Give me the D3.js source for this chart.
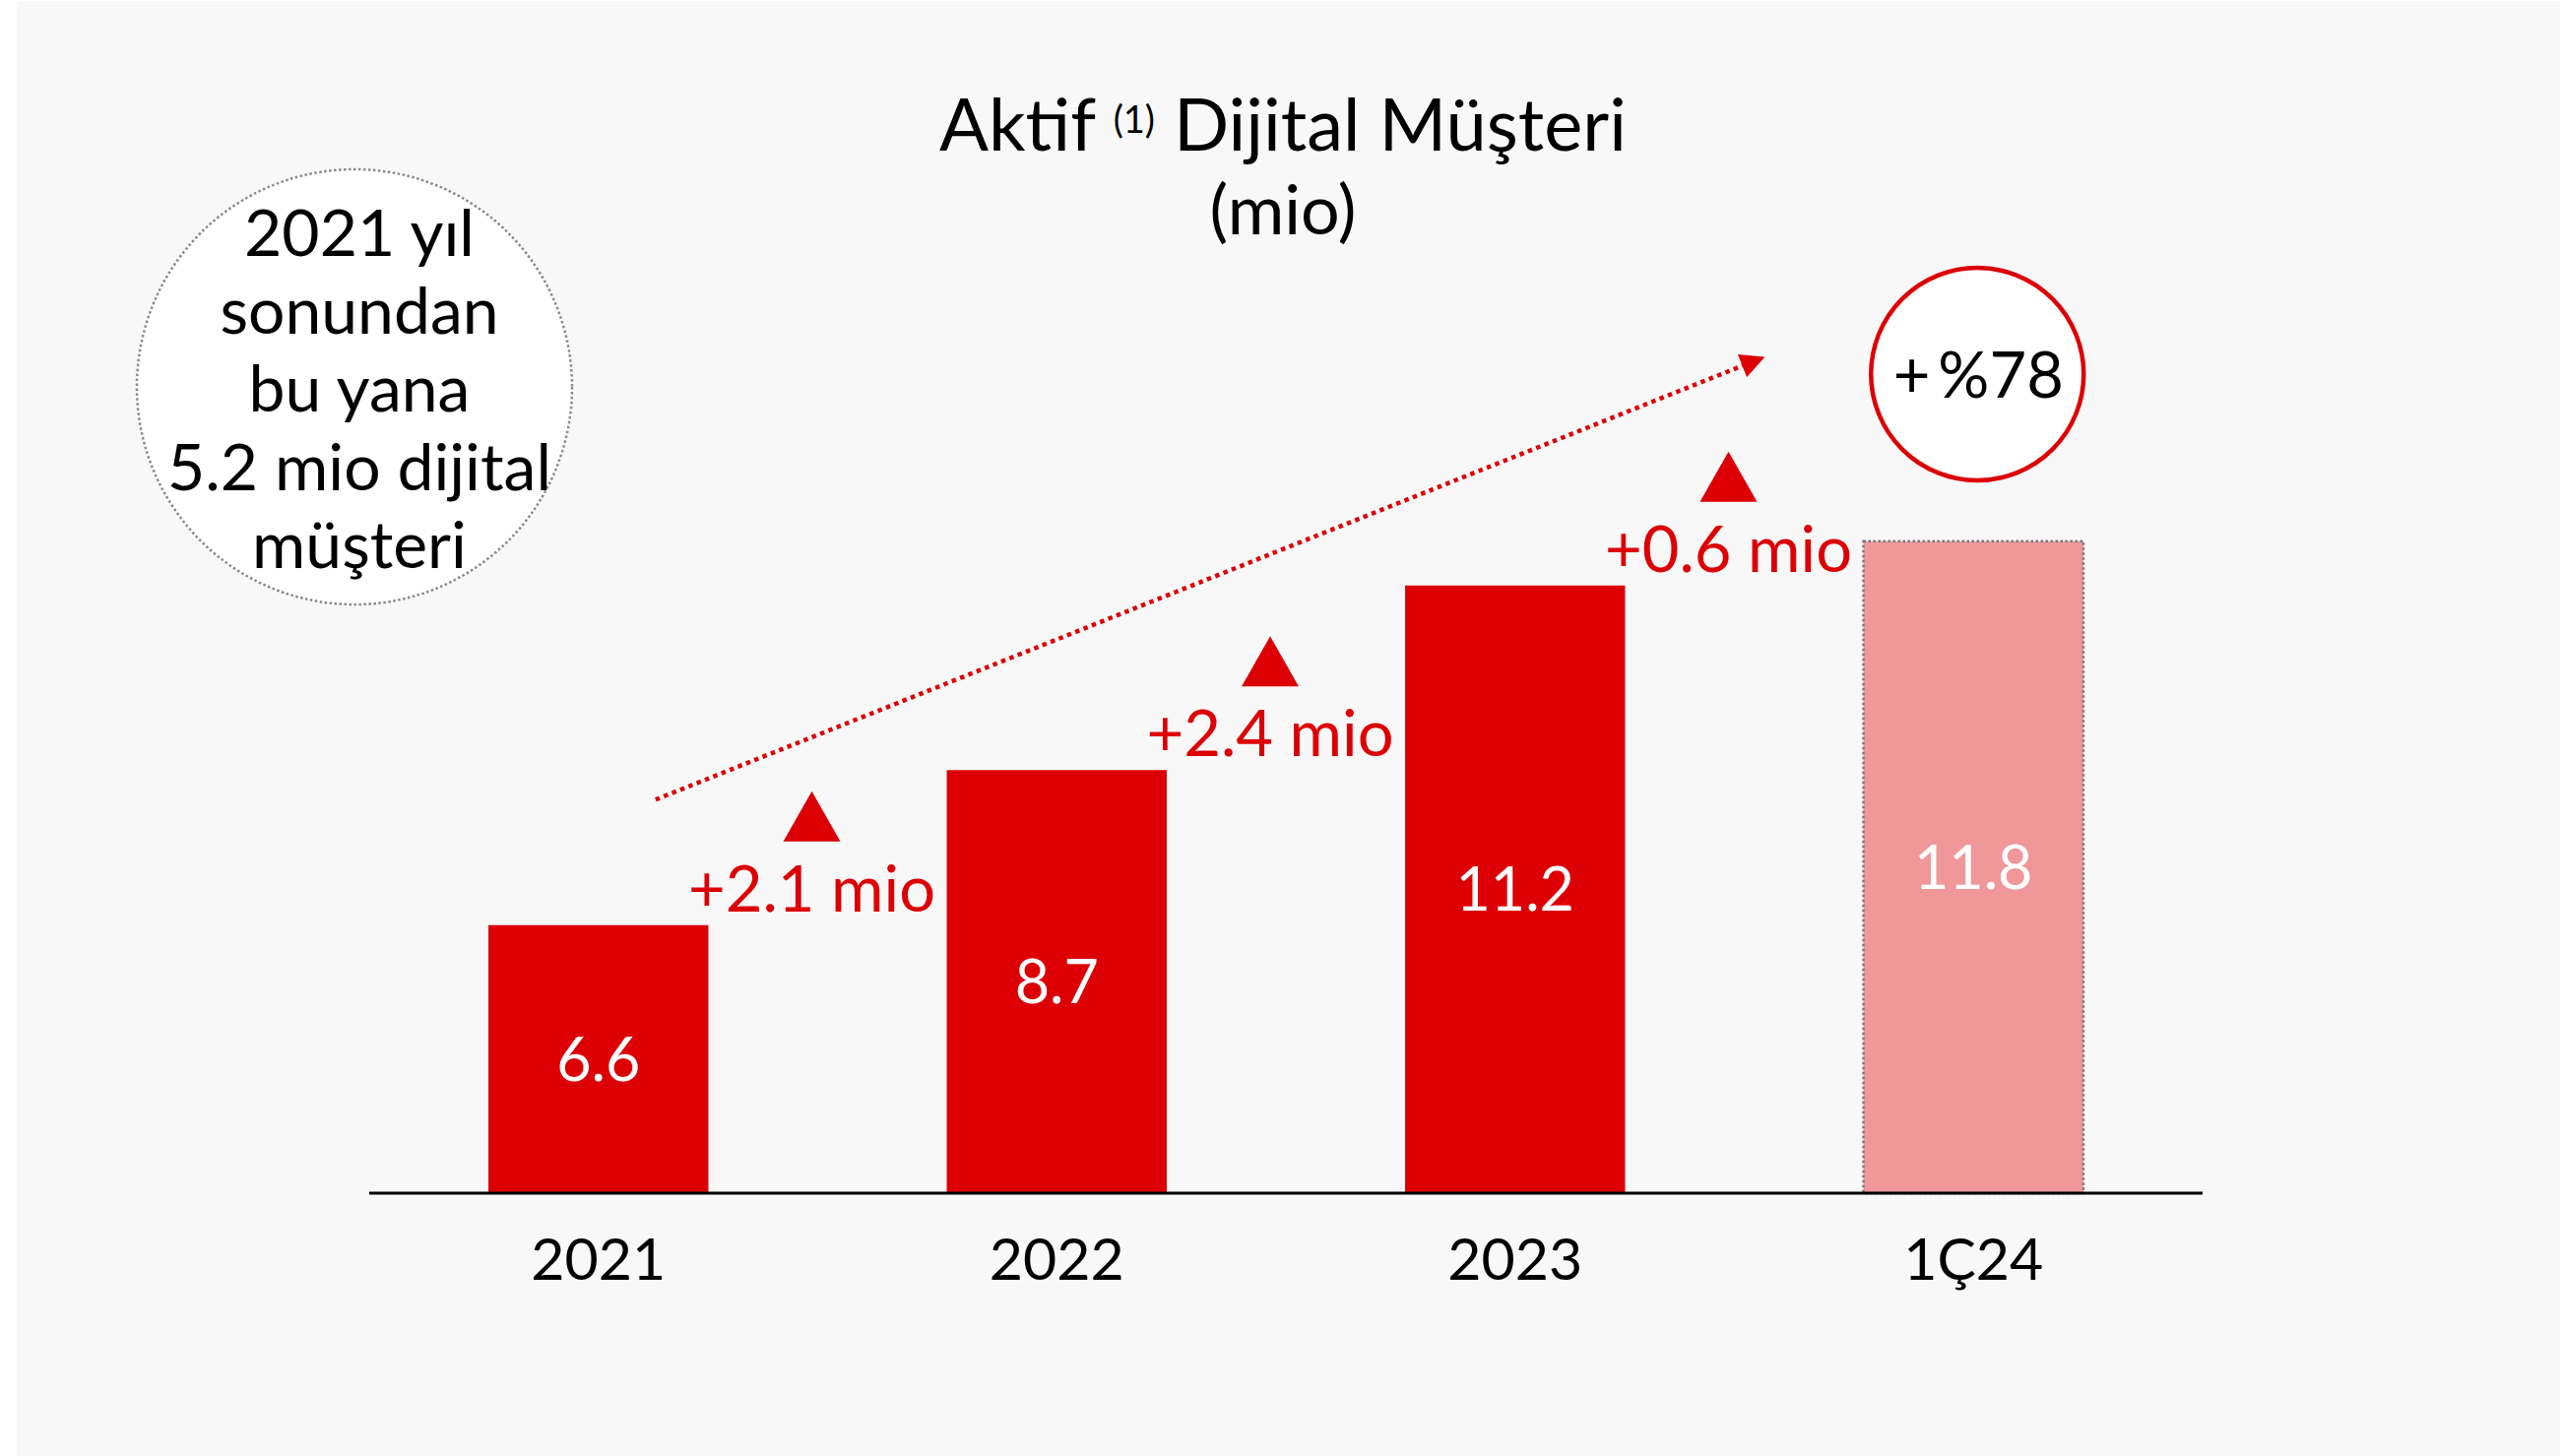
<!DOCTYPE html>
<html>
<head>
<meta charset="utf-8">
<script src="https://cdn.jsdelivr.net/npm/d3@7"></script>
<style>
  html, body { margin: 0; padding: 0; background: #ffffff; }
  svg { display: block; }
  text { font-family: Lato, "Noto Sans", sans-serif; }
</style>
</head>
<body>
<svg id="chart" width="2600" height="1479"></svg>
<script>
// ---- data ----
const categories = ["2021", "2022", "2023", "1Ç24"];
const values = [6.6, 8.7, 11.2, 11.8];
const valueLabels = ["6.6", "8.7", "11.2", "11.8"];
const deltaLabels = ["+2.1 mio", "+2.4 mio", "+0.6 mio"];
const titleMain = ["Aktif", "(1)", "Dijital Müşteri"];
const subtitle = "(mio)";
const noteLines = ["2021 yıl", "sonundan", "bu yana", "5.2 mio dijital", "müşteri"];
const growthLabel = "+%78";

// ---- styles ----
const RED = "#dc0005";
const PINK = "#f0979a";
const BG = "#f8f8f8";

const svg = d3.select("#chart");
svg.append("rect").attr("x", 17).attr("y", 1).attr("width", 2583).attr("height", 1478).attr("fill", BG);

const x = d3.scaleBand().domain(categories).range([375, 2237]).paddingInner(0.52).paddingOuter(0.26).align(0.5);
const y = d3.scaleLinear().domain([2.97, 11.8]).range([1212, 549.75]);
const bw = x.bandwidth();

// title
const title = svg.append("text").attr("x", 1303).attr("y", 153).attr("text-anchor", "middle")
  .attr("font-size", 74).attr("fill", "#000");
title.append("tspan").text(titleMain[0] + " ");
title.append("tspan").attr("font-size", 38).attr("dy", -18).text(titleMain[1]);
title.append("tspan").attr("dy", 18).text(" " + titleMain[2]);
svg.append("text").attr("x", 1303).attr("y", 238).attr("text-anchor", "middle")
  .attr("font-size", 70).attr("fill", "#000").text(subtitle);

// note circle
svg.append("circle").attr("cx", 360).attr("cy", 393).attr("r", 221)
  .attr("fill", "#ffffff").attr("stroke", "#8a8a8a").attr("stroke-width", 2.5).attr("stroke-dasharray", "2.5 2.5");
svg.append("g").selectAll("text").data(noteLines).join("text")
  .attr("x", 365).attr("y", (d, i) => 260 + i * 79.2)
  .attr("text-anchor", "middle").attr("font-size", 66).attr("fill", "#000").text(d => d);

// bars
svg.append("g").selectAll("rect").data(values).join("rect")
  .attr("x", (d, i) => x(categories[i]))
  .attr("y", d => y(d))
  .attr("width", bw)
  .attr("height", d => y.range()[0] - y(d))
  .attr("fill", (d, i) => i === values.length - 1 ? PINK : RED)
  .attr("stroke", (d, i) => i === values.length - 1 ? "#7a7a7a" : "none")
  .attr("stroke-width", 2.5)
  .attr("stroke-dasharray", "2.5 2.5");

// baseline (axis)
const axis = d3.axisBottom(x).tickSize(0).tickPadding(0);
const gAxis = svg.append("g").attr("transform", `translate(0,${y.range()[0]})`).call(axis);
gAxis.select(".domain").attr("stroke", "#000").attr("stroke-width", 3).attr("d", `M375,0H2237`);
gAxis.selectAll(".tick text").attr("font-size", 59).attr("fill", "#000")
  .attr("font-family", "Lato, 'Noto Sans', sans-serif").attr("dy", null).attr("y", 88);

// value labels
svg.append("g").selectAll("text").data(values).join("text")
  .attr("x", (d, i) => x(categories[i]) + bw / 2)
  .attr("y", d => (y(d) + y.range()[0]) / 2 + 22)
  .attr("text-anchor", "middle").attr("font-size", 61).attr("fill", "#fff")
  .text((d, i) => valueLabels[i]);

// delta labels + triangles between bars
const deltaG = svg.append("g").selectAll("g").data(deltaLabels).join("g")
  .attr("transform", (d, i) => {
    const cx = (x(categories[i]) + x(categories[i + 1])) / 2 + bw / 2 - 16;
    const ty = y(values[i]) - 14;
    return `translate(${cx},${ty})`;
  });
deltaG.append("text").attr("text-anchor", "middle").attr("font-size", 65).attr("fill", RED).text(d => d);
deltaG.append("path").attr("d", "M0,-122L29,-71L-29,-71Z").attr("fill", RED);

// dotted growth arrow
const defs = svg.append("defs");
defs.append("marker").attr("id", "arrow").attr("viewBox", "0 0 10 10").attr("refX", 2).attr("refY", 5)
  .attr("markerWidth", 6).attr("markerHeight", 5.5).attr("markerUnits", "strokeWidth").attr("orient", "auto")
  .append("path").attr("d", "M0,0L10,5L0,10Z").attr("fill", RED);
const x0 = x(categories[0]) + bw * 0.76, y0 = y(8.3);
const x1 = x(categories[3]) - bw * 0.53, y1 = y(14.2);
svg.append("line").attr("x1", x0).attr("y1", y0).attr("x2", x1).attr("y2", y1)
  .attr("stroke", RED).attr("stroke-width", 4.5).attr("stroke-dasharray", "4.5 4.5")
  .attr("marker-end", "url(#arrow)");

// growth circle
const gcx = x(categories[3]) + bw / 2 + 4;
svg.append("circle").attr("cx", gcx).attr("cy", 380).attr("r", 108)
  .attr("fill", "#fff").attr("stroke", RED).attr("stroke-width", 4.5);
const gt = svg.append("text").attr("x", gcx + 1).attr("y", 404).attr("text-anchor", "middle")
  .attr("font-size", 65).attr("fill", "#000");
gt.append("tspan").text(growthLabel.slice(0, 1));
gt.append("tspan").attr("dx", 8).text(growthLabel.slice(1));
</script>
</body>
</html>
